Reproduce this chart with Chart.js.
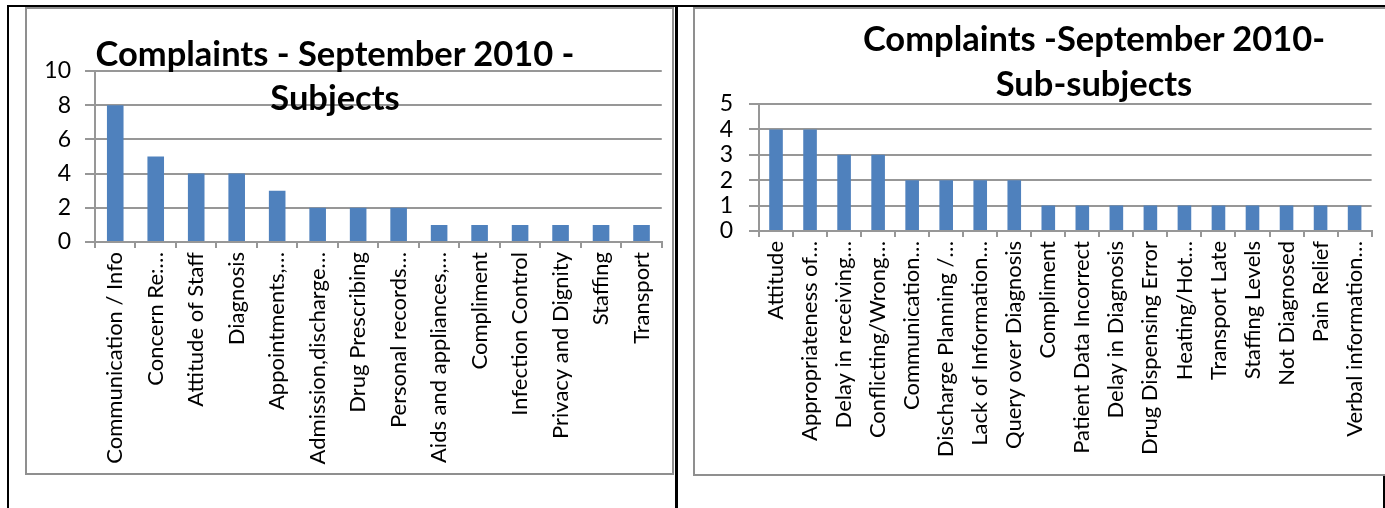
<!DOCTYPE html>
<html lang="en">
<head>
    <meta charset="UTF-8">
    <title>Complaints - September 2010</title>
    <script src="https://cdn.jsdelivr.net/npm/chart.js"></script>
    <style>
        body { margin: 0; background: #fff; width: 1385px; height: 508px; overflow: hidden; position: relative; font-family: Lato, sans-serif; }
        .line { position: absolute; background: #000; }
        .box { position: absolute; border: 2px solid #8f8f8f; box-sizing: border-box; }
        .chart { position: absolute; }
        .title { position: absolute; text-align: center; font-weight: bold; color: #000; white-space: nowrap; }
    </style>
</head>
<body>
    <!-- table lines -->
    <div class="line" style="left:7px; top:5px; width:1378px; height:2px;"></div>
    <div class="line" style="left:7px; top:5px; width:2px; height:503px;"></div>
    <div class="line" style="left:675px; top:5px; width:3px; height:503px;"></div>
    <div class="line" style="left:1383px; top:476px; width:2px; height:32px;"></div>

    <!-- chart frames -->
    <div class="box" style="left:25px; top:7px; width:649px; height:468px;"></div>
    <div class="box" style="left:693px; top:7px; width:700px; height:469px;"></div>

    <div class="chart" style="left:27px; top:9px;">
        <canvas id="subjectsChart" width="645" height="464"></canvas>
    </div>
    <div class="chart" style="left:695px; top:9px;">
        <canvas id="subSubjectsChart" width="690" height="466"></canvas>
    </div>

    <div class="title" style="left:35px; width:600px; top:31px; font-size:34.5px; line-height:44px;">Complaints - September 2010 -<br>Subjects</div>
    <div class="title" style="left:794px; width:600px; top:15px; font-size:34.5px; line-height:45px;">Complaints -September 2010-<br>Sub-subjects</div>

    <script>
        // data
        const subjects = ['Communication / Info', 'Concern Re:…', 'Attitude of Staff', 'Diagnosis', 'Appointments,…',
            'Admission,discharge…', 'Drug Prescribing', 'Personal records…', 'Aids and appliances,…', 'Compliment',
            'Infection Control', 'Privacy and Dignity', 'Staffing', 'Transport'];
        const subjectCounts = [8, 5, 4, 4, 3, 2, 2, 2, 1, 1, 1, 1, 1, 1];
        const subjectTicks = [0, 2, 4, 6, 8, 10];

        const subSubjects = ['Attitude', 'Appropriateness of…', 'Delay in receiving…', 'Conflicting/Wrong…',
            'Communication…', 'Discharge Planning /…', 'Lack of Information…', 'Query over Diagnosis', 'Compliment',
            'Patient Data Incorrect', 'Delay in Diagnosis', 'Drug Dispensing Error', 'Heating/Hot…', 'Transport Late',
            'Staffing Levels', 'Not Diagnosed', 'Pain Relief', 'Verbal information…'];
        const subSubjectCounts = [4, 4, 3, 3, 2, 2, 2, 2, 1, 1, 1, 1, 1, 1, 1, 1, 1, 1];
        const subSubjectTicks = [0, 1, 2, 3, 4, 5];

        const barColor = '#4f81bd';
        const gridColor = '#979797';

        function renderChart(id, labels, values, ticks, sizes) {
            const ctx = document.getElementById(id).getContext('2d');
            new Chart(ctx, {
                type: 'bar',
                data: {
                    labels: labels,
                    datasets: [{
                        data: values,
                        backgroundColor: barColor,
                        barPercentage: sizes.bar,
                        categoryPercentage: 1
                    }]
                },
                options: {
                    responsive: false,
                    animation: false,
                    layout: { padding: sizes.padding },
                    plugins: {
                        legend: { display: false },
                        title: { display: false },
                        tooltip: { enabled: false }
                    },
                    scales: {
                        x: {
                            grid: { drawOnChartArea: false, tickLength: 6, color: gridColor, lineWidth: 2 },
                            border: { color: gridColor, width: 2 },
                            ticks: {
                                autoSkip: false, minRotation: 90, maxRotation: 90, padding: 4,
                                color: '#000', font: { family: 'Lato', size: 22 }
                            },
                            afterFit: s => { s.height = sizes.xHeight; }
                        },
                        y: {
                            min: ticks[0],
                            max: ticks[ticks.length - 1],
                            afterBuildTicks: s => { s.ticks = ticks.map(v => ({ value: v })); },
                            grid: { tickLength: 10, color: gridColor, lineWidth: 2 },
                            border: { color: gridColor, width: 2 },
                            ticks: {
                                autoSkip: false, padding: sizes.yPad, color: '#000',
                                font: { family: 'Lato', size: 23 }
                            },
                            afterFit: s => { s.width = sizes.yWidth; }
                        }
                    }
                }
            });
        }

        renderChart('subjectsChart', subjects, subjectCounts, subjectTicks, {
            bar: 0.41, xHeight: 231, yWidth: 68, yPad: 14,
            padding: { top: 62, right: 2, left: 0, bottom: 0 }
        });
        renderChart('subSubjectsChart', subSubjects, subSubjectCounts, subSubjectTicks, {
            bar: 0.4, xHeight: 244, yWidth: 64, yPad: 16,
            padding: { top: 95, right: 0, left: 0, bottom: 0 }
        });
    </script>
</body>
</html>
